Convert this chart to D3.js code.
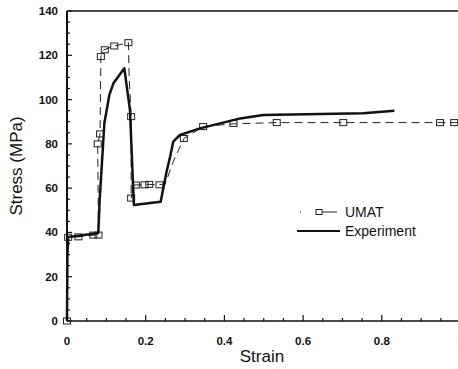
<!DOCTYPE html>
<html><head><meta charset="utf-8">
<script src="https://cdn.jsdelivr.net/npm/d3@7"></script>
<style>html,body{margin:0;padding:0;background:#fff;overflow:hidden}</style>
</head><body>
<svg id="c" width="458" height="369"></svg>
<script>
// ---- data ----
const xTicks = [0, 0.2, 0.4, 0.6, 0.8, 1.0];
const yTicks = [0, 20, 40, 60, 80, 100, 120, 140];
const expStrain = [0, 0.001, 0.003, 0.03, 0.0795, 0.083, 0.095, 0.1075, 0.118, 0.1457, 0.160, 0.170, 0.238, 0.253, 0.262, 0.270, 0.287, 0.338, 0.44, 0.499, 0.753, 0.832];
const expStress = [0, 30, 37.9, 38.5, 39.7, 54.6, 89.3, 102, 107.4, 114.1, 95.3, 52.4, 53.9, 67.4, 74.2, 81, 84, 87, 91.5, 93, 93.8, 95];
const umatStrain = [0, 0.002, 0.012, 0.029, 0.05, 0.067, 0.08, 0.078, 0.084, 0.086, 0.094, 0.12, 0.14, 0.156, 0.158, 0.163, 0.163, 0.17, 0.19, 0.209, 0.235, 0.25, 0.27, 0.297, 0.346, 0.42, 0.533, 0.70, 0.948, 0.984, 1.0];
const umatStress = [0, 37.6, 38, 38, 38.5, 38.8, 39, 80, 84.5, 119.4, 122.5, 124.2, 125, 125.7, 110, 92.3, 55.5, 61.4, 61.5, 61.7, 61.5, 62, 72, 82.4, 87.8, 89, 89.6, 89.6, 89.6, 89.6, 89.6];
const umatMarkStrain = [0, 0.003, 0.029, 0.067, 0.08, 0.078, 0.084, 0.086, 0.096, 0.12, 0.156, 0.163, 0.163, 0.175, 0.197, 0.209, 0.235, 0.297, 0.346, 0.423, 0.533, 0.702, 0.948, 0.984];
const umatMarkStress = [0, 37.8, 38, 38.8, 38.8, 80, 84.5, 119.4, 122.5, 124.2, 125.7, 92.3, 55.5, 61.4, 61.5, 61.7, 61.5, 82.4, 87.8, 89.2, 89.6, 89.6, 89.6, 89.6];
const legendLabels = ["UMAT", "Experiment"];

// ---- chart ----
const svg = d3.select("#c");
const x = d3.scaleLinear().domain([0, 1]).range([67, 460.5]);
const y = d3.scaleLinear().domain([0, 140]).range([321, 11]);
const ink = "#111";

// top border
svg.append("line").attr("x1", x(0)).attr("x2", 458).attr("y1", y(140)).attr("y2", y(140))
  .attr("stroke", ink).attr("stroke-width", 1.5);

// x axis
const xMinor = d3.range(0, 1.0001, 0.05);
const gx = svg.append("g");
gx.append("line").attr("x1", x(0)).attr("x2", 458).attr("y1", y(0)).attr("y2", y(0)).attr("stroke", ink).attr("stroke-width", 1.5);
gx.selectAll("line.mn").data(xMinor).enter().append("line").attr("class", "mn")
  .attr("x1", d => x(d)).attr("x2", d => x(d)).attr("y1", y(0)).attr("y2", d => y(0) - (Math.abs(d*5 - Math.round(d*5)) < 1e-6 ? 6 : 3))
  .attr("stroke", ink).attr("stroke-width", 1.2);
gx.selectAll("text").data(xTicks).enter().append("text")
  .attr("x", d => x(d)).attr("y", 345).attr("text-anchor", "middle")
  .attr("font-family", "Liberation Sans, Arial, sans-serif").attr("font-weight", "bold").attr("font-size", 11.5)
  .attr("fill", ink).text(d => d3.format("~g")(d));

// y axis
const yMinor = d3.range(0, 140.001, 5);
const gy = svg.append("g");
gy.append("line").attr("x1", x(0)).attr("x2", x(0)).attr("y1", y(0)).attr("y2", y(140)).attr("stroke", ink).attr("stroke-width", 2);
gy.selectAll("line.mn").data(yMinor).enter().append("line").attr("class", "mn")
  .attr("x1", x(0)).attr("x2", d => x(0) + (d % 20 === 0 ? 5 : 3)).attr("y1", d => y(d)).attr("y2", d => y(d))
  .attr("stroke", ink).attr("stroke-width", 1.2);
gy.selectAll("text").data(yTicks).enter().append("text")
  .attr("x", 58).attr("y", d => y(d) + 4).attr("text-anchor", "end")
  .attr("font-family", "Liberation Sans, Arial, sans-serif").attr("font-weight", "bold").attr("font-size", 11.5)
  .attr("fill", ink).text(d => d);

// axis titles
svg.append("text").attr("x", 262).attr("y", 362).attr("text-anchor", "middle")
  .attr("font-family", "Liberation Sans, Arial, sans-serif").attr("font-size", 17).attr("fill", ink).text("Strain");
svg.append("text").attr("transform", "translate(22,166) rotate(-90)").attr("text-anchor", "middle")
  .attr("font-family", "Liberation Sans, Arial, sans-serif").attr("font-size", 17).attr("fill", ink).text("Stress (MPa)");

// series
const line = d3.line().x(d => x(d[0])).y(d => y(d[1]));
const umat = umatStrain.map((s, i) => [s, umatStress[i]]);
const exp = expStrain.map((s, i) => [s, expStress[i]]);
svg.append("path").datum(umat).attr("d", line).attr("fill", "none").attr("stroke", "#222")
  .attr("stroke-width", 1).attr("stroke-dasharray", "8,5");
svg.selectAll("rect.mk").data(umatMarkStrain.map((s, i) => [s, umatMarkStress[i]])).enter().append("rect").attr("class", "mk")
  .attr("x", d => x(d[0]) - 3.5).attr("y", d => y(d[1]) - 3).attr("width", 7).attr("height", 6)
  .attr("fill", "none").attr("stroke", "#222").attr("stroke-width", 1);
svg.append("path").datum(exp).attr("d", line).attr("fill", "none").attr("stroke", ink)
  .attr("stroke-width", 2.5).attr("stroke-linejoin", "round");

// legend
const lg = svg.append("g");
lg.append("line").attr("x1", 300).attr("x2", 337).attr("y1", 212).attr("y2", 212).attr("stroke", "#222").attr("stroke-width", 1).attr("stroke-dasharray", "1,16,20");
lg.append("rect").attr("x", 316).attr("y", 209.5).attr("width", 6).attr("height", 5).attr("fill", "#fff").attr("stroke", "#222").attr("stroke-width", 1);
lg.append("line").attr("x1", 297).attr("x2", 340).attr("y1", 231).attr("y2", 231).attr("stroke", ink).attr("stroke-width", 2);
lg.selectAll("text").data(legendLabels).enter().append("text")
  .attr("x", 345).attr("y", (d, i) => 217 + i * 19)
  .attr("font-family", "Liberation Sans, Arial, sans-serif").attr("font-size", 14).attr("fill", ink).text(d => d);
</script>
</body></html>
